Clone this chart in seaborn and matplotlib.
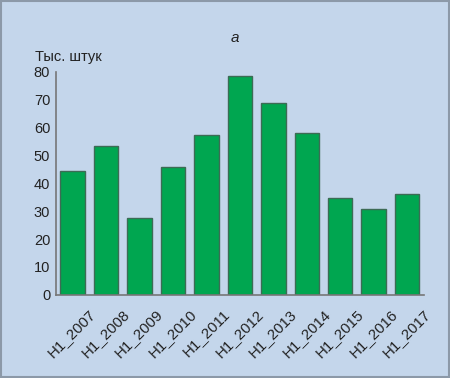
import pandas as pd
import matplotlib.pyplot as plt
import matplotlib.transforms as mtransforms
import seaborn as sns

years = ['H1_2007', 'H1_2008', 'H1_2009', 'H1_2010', 'H1_2011', 'H1_2012',
         'H1_2013', 'H1_2014', 'H1_2015', 'H1_2016', 'H1_2017']
values = [44.6, 53.5, 27.6, 46.0, 57.3, 78.4, 68.8, 58.0, 34.9, 30.9, 36.3]
yticks = [0, 10, 20, 30, 40, 50, 60, 70, 80]

bg = '#c4d6eb'
sns.set_style('white')
plt.rcParams['font.family'] = ['Liberation Sans', 'DejaVu Sans']

df = pd.DataFrame({'year': years, 'value': values})

fig = plt.figure(figsize=(4.5, 3.78), dpi=100, facecolor=bg)
ax = fig.add_axes([0.124, 0.22, 0.818, 0.59])
ax.set_facecolor(bg)
sns.barplot(data=df, x='year', y='value', color='#00a650', saturation=1,
            width=0.73, edgecolor='#3d6b55', linewidth=1.0, ax=ax)

ax.set_ylim(0, 80)
ax.set_xlim(-0.5, len(years) - 0.5)
ax.set_yticks(yticks)
ax.set_yticklabels([str(t) for t in yticks], fontsize=10.5, color='#222222')
ax.set_xticks(range(len(years)))
ax.set_xticklabels(years, rotation=45, ha='right', va='top', rotation_mode='anchor',
                   fontsize=10.8, color='#222222')
ax.tick_params(axis='x', length=0, pad=0)
ax.tick_params(axis='y', direction='in', length=4, width=1, color='#777777', pad=4)
# shift the rotated labels so they end to the right of each bar, as in the original
offset = mtransforms.ScaledTranslation(0.16, -0.12, fig.dpi_scale_trans)
for lab in ax.get_xticklabels():
    lab.set_transform(lab.get_transform() + offset)
# minor ticks between bars on the x axis
ax.set_xticks([i + 0.5 for i in range(len(years))], minor=True)
ax.tick_params(axis='x', which='minor', direction='in', length=4, width=1, color='#777777')

for side in ['top', 'right']:
    ax.spines[side].set_visible(False)
for side in ['left', 'bottom']:
    ax.spines[side].set_color('#777777')
    ax.spines[side].set_linewidth(1.2)
ax.set_xlabel('')
ax.set_ylabel('')

fig.text(0.522, 0.9, 'а', fontsize=11, style='italic', ha='center', va='center', color='#222222')
fig.text(0.078, 0.848, 'Тыс. штук', fontsize=10.5, ha='left', va='center', color='#222222')

# outer frame
fig.patches.append(plt.Rectangle((0.002, 0.002), 0.996, 0.996, transform=fig.transFigure,
                                 fill=False, edgecolor='#8c99a8', linewidth=1.5))

plt.savefig('out.png', dpi=100, facecolor=bg)
